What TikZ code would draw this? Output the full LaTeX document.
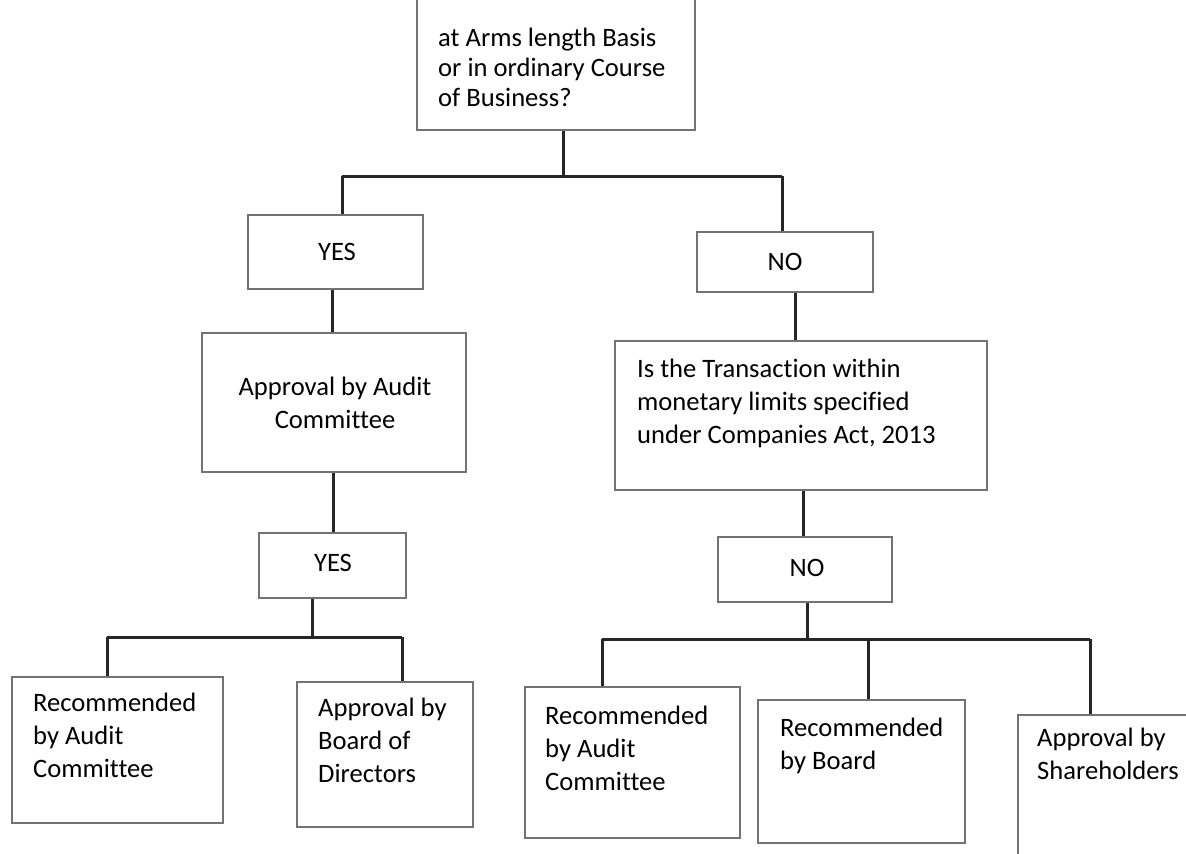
\documentclass[tikz,border=0pt]{standalone}
\usepackage{fontspec}
\setmainfont{Carlito}[Ligatures=NoCommon]
\usetikzlibrary{fit}
\tikzset{
  boxnode/.style={draw=black!55, line width=1.6pt, rectangle, inner sep=0pt},
  conn/.style={draw=black!85, line width=3pt},
  txt/.style={inner sep=0pt, font=\fontsize{26.6}{33}\selectfont, text=black},
  txtl/.style={txt, anchor=west, align=left},
  txtc/.style={txt, align=center}
}
\newcommand{\boxat}[3]{% name, (x1,y1), (x2,y2)
  \path (#2) coordinate (#1-a) (#3) coordinate (#1-b);
  \node[boxnode, fit=(#1-a)(#1-b)] (#1) {};
}
\begin{document}
\begin{tikzpicture}[x=1pt,y=-1pt]
\useasboundingbox (0,0) rectangle (1186,854);
\clip (0,0) rectangle (1186,854);
\fill[white] (0,0) rectangle (1186,854);

% boxes
\boxat{top}{417,-20}{695,130}
\boxat{yesA}{248,215}{423,289}
\boxat{aac}{202,333}{466,472}
\boxat{yesB}{259,533}{406,598}
\boxat{racA}{12,677}{223,823}
\boxat{abd}{297,682}{473,827}
\boxat{noA}{697,232}{873,292}
\boxat{trans}{615,341}{987,490}
\boxat{noB}{718,537}{892,602}
\boxat{racB}{525,687}{740,838}
\boxat{rb}{758,700}{965,843}
\boxat{sh}{1018,715}{1220,880}

% texts
\node[txtl, font=\fontsize{26.6}{30}\selectfont] (ttop) at (438,67) {at Arms length Basis\\or in ordinary Course\\of Business?};
\node[txtc] (tyesA) at (337,252) {YES};
\node[txtc] (taac) at (335,403) {Approval by Audit\\Committee};
\node[txtc] (tyesB) at (333,563) {YES};
\node[txtc] (tnoA) at (785,262) {NO};
\node[txtl] (ttrans) at (637,403) {Is the Transaction within\\monetary limits specified\\under Companies Act, 2013};
\node[txtc] (tnoB) at (807,568) {NO};
\node[txtl] (tracA) at (33,735) {Recommended\\by Audit\\Committee};
\node[txtl] (tabd) at (318,740) {Approval by\\Board of\\Directors};
\node[txtl] (tracB) at (545,748) {Recommended\\by Audit\\Committee};
\node[txtl] (trb) at (780,746) {Recommended\\by Board};
\node[txtl] (tsh) at (1037,754) {Approval by\\Shareholders};

% junction coordinates
\coordinate (j1) at (563,176);
\coordinate (j1l) at (342,176);
\coordinate (j1r) at (782,176);
\coordinate (c1) at (332,0);
\coordinate (c2) at (333,0);
\coordinate (j2) at (312,637);
\coordinate (j2l) at (107,637);
\coordinate (j2r) at (402,637);
\coordinate (c3) at (795,0);
\coordinate (c4) at (803,0);
\coordinate (j3) at (807,639);
\coordinate (j3l) at (602,639);
\coordinate (j3m) at (868,639);
\coordinate (j3r) at (1090,639);

% connectors
\draw[conn] (top.south -| j1) -- (j1);
\draw[conn] (j1l) -- (j1r);
\draw[conn] (j1l) -- (yesA.north -| j1l);
\draw[conn] (j1r) -- (noA.north -| j1r);
\draw[conn] (yesA.south -| c1) -- (aac.north -| c1);
\draw[conn] (aac.south -| c2) -- (yesB.north -| c2);
\draw[conn] (yesB.south -| j2) -- (j2);
\draw[conn] (j2l) -- (j2r);
\draw[conn] (j2l) -- (racA.north -| j2l);
\draw[conn] (j2r) -- (abd.north -| j2r);
\draw[conn] (noA.south -| c3) -- (trans.north -| c3);
\draw[conn] (trans.south -| c4) -- (noB.north -| c4);
\draw[conn] (noB.south -| j3) -- (j3);
\draw[conn] (j3l) -- (j3r);
\draw[conn] (j3l) -- (racB.north -| j3l);
\draw[conn] (j3m) -- (rb.north -| j3m);
\draw[conn] (j3r) -- (sh.north -| j3r);
\end{tikzpicture}
\end{document}
